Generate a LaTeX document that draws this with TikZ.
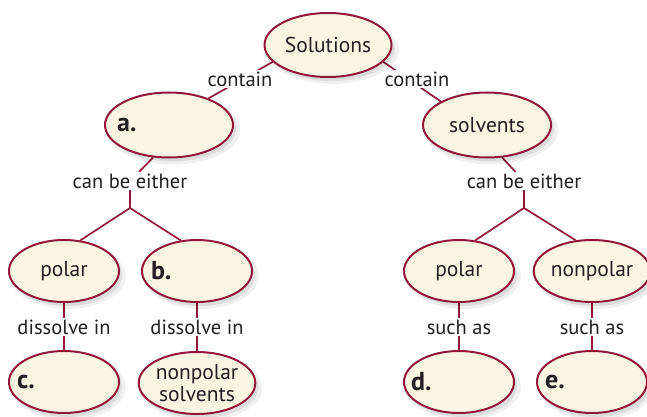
\documentclass[tikz,border=0pt]{standalone}
\usepackage{fontspec}
\setmainfont{PT Sans}
\usetikzlibrary{shapes.geometric,shadows}
\definecolor{maroon}{RGB}{145,22,56}
\definecolor{cream}{RGB}{253,245,228}
\definecolor{ink}{RGB}{35,31,32}
\pgfdeclarelayer{bg}
\pgfdeclarelayer{paper}
\pgfsetlayers{paper,bg,main}
\tikzset{
  oval/.style={ellipse, draw=maroon, line width=2pt, fill=cream, inner sep=0pt,
    minimum width=#1, minimum height=62pt, text=ink,
    drop shadow={shadow xshift=4pt, shadow yshift=-5pt, shadow scale=1.05, opacity=0.06, fill=black},
    drop shadow={shadow xshift=3pt, shadow yshift=-4pt, opacity=0.08, fill=black},
    font=\fontsize{21.5}{22}\selectfont, align=center},
  oval/.default=110pt,
  lbl/.style={fill=white, inner sep=1.5pt, text=ink, font=\fontsize{20.5}{22}\selectfont},
  letter/.style={anchor=west, inner sep=0pt, text=ink, font=\fontsize{26}{27}\selectfont\bfseries},
  conn/.style={draw=maroon, line width=1.7pt},
}
\begin{document}
\begin{tikzpicture}[x=1pt,y=-1pt]
\begin{pgfonlayer}{paper}
\fill[white] (0,0) rectangle (647,417);
\end{pgfonlayer}
\useasboundingbox (0,0) rectangle (647,417);
% ovals
\node[oval=127pt, minimum height=64pt] (sol) at (328,45) {Solutions};
\node[oval=128pt, minimum height=65pt] (a) at (169,125) {};
\node[oval=128pt, minimum height=65pt] (solv) at (487,125) {solvents};
\node[oval] (pol1) at (64,271) {polar};
\node[oval] (b) at (197,271) {};
\node[oval] (c) at (64,382) {};
\node[oval] (nps) at (197,383) {nonpolar\\solvents};
\node[oval] (pol2) at (459,271) {polar};
\node[oval] (np) at (592,271) {nonpolar};
\node[oval] (d) at (459,382) {};
\node[oval] (e) at (592,382) {};
% letters
\node[letter] (la) at ([xshift=13pt]a.west) {a.};
\node[letter] (lb) at ([xshift=10pt]b.west) {b.};
\node[letter] (lc) at ([xshift=9pt]c.west) {c.};
\node[letter] (ld) at ([xshift=8pt]d.west) {d.};
\node[letter] (le) at ([xshift=9pt]e.west) {e.};
% labels
\node[lbl] (ct1) at (240,79) {contain};
\node[lbl] (ct2) at (417,79) {contain};
\node[lbl] (cbe1) at (130,181) {can be either};
\node[lbl] (cbe2) at (524,181) {can be either};
\node[lbl] (dis1) at (64,327) {dissolve in};
\node[lbl] (dis2) at (197,327) {dissolve in};
\node[lbl] (sa1) at (459,327) {such as};
\node[lbl] (sa2) at (592,327) {such as};
\coordinate (j1) at (130,208);
\coordinate (j2) at (524,208);
% connectors
\begin{pgfonlayer}{bg}
\draw[conn] (sol.197) -- (a.34);
\draw[conn] (sol.343) -- (solv.153);
\draw[conn] (a.244) -- (cbe1);
\draw[conn] (solv.295) -- (cbe2);
\draw[conn] (cbe1.south) -- (j1) -- (pol1.62);
\draw[conn] (j1) -- (b.118);
\draw[conn] (cbe2.south) -- (j2) -- (pol2.62);
\draw[conn] (j2) -- (np.118);
\draw[conn] (pol1.south) -- (c.north);
\draw[conn] (b.south) -- (nps.north);
\draw[conn] (pol2.south) -- (d.north);
\draw[conn] (np.south) -- (e.north);
\end{pgfonlayer}
\end{tikzpicture}
\end{document}
